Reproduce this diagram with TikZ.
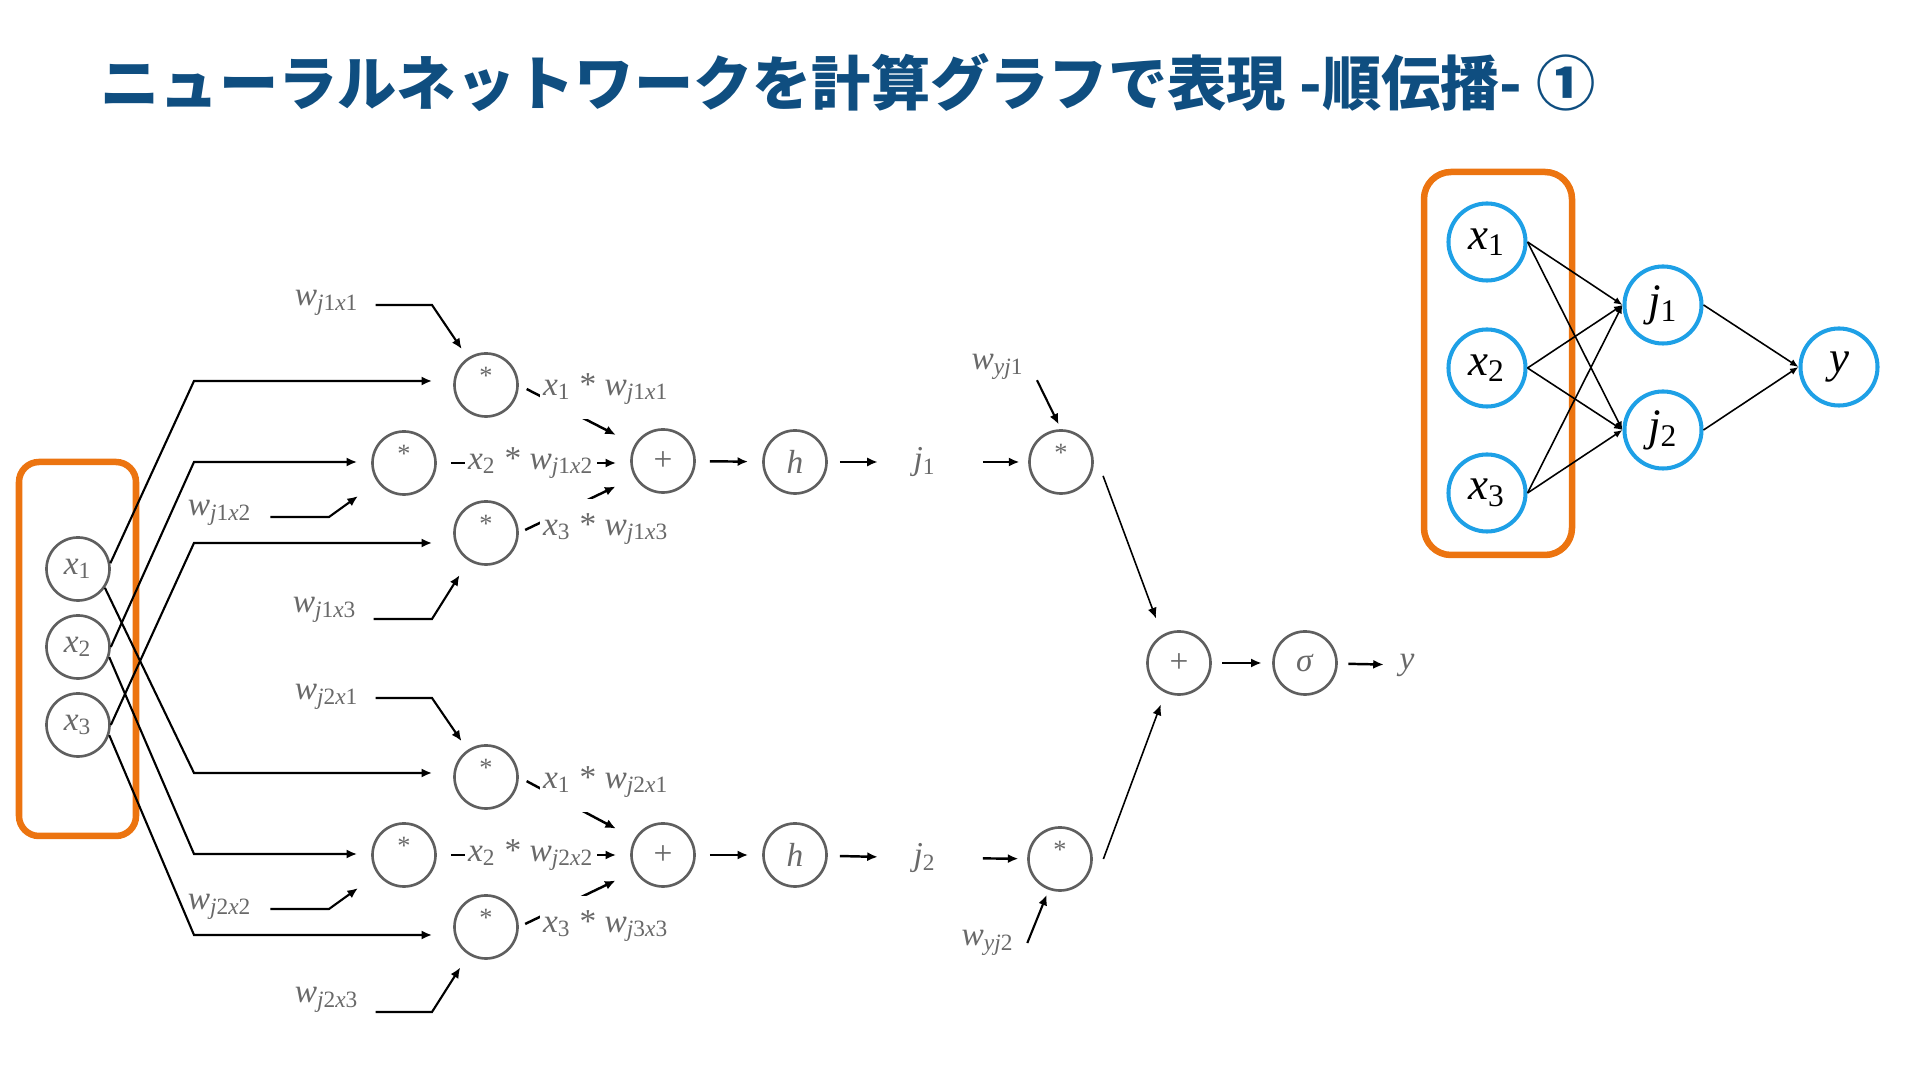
\documentclass[tikz,border=0pt]{standalone}
\usepackage{fontspec}
\setmainfont{Liberation Serif}
\newfontfamily\jpfont{Noto Sans CJK JP}
\usepackage{tikz}
\usetikzlibrary{arrows.meta}
\definecolor{TitleBlue}{RGB}{15,78,128}
\definecolor{BoxOrange}{RGB}{236,116,16}
\definecolor{NodeBlue}{RGB}{30,160,230}
\definecolor{OpGray}{RGB}{95,95,95}
\definecolor{LabelGray}{RGB}{105,105,105}
\newcommand{\lvar}[2]{\textit{#1}\textsubscript{#2}}
\newcommand{\wjx}[2]{\textit{w}\textsubscript{\textit{j}#1\textit{x}#2}}
\newcommand{\wyj}[1]{\textit{w}\textsubscript{\textit{yj}#1}}
\newcommand{\opstar}{{\fontsize{7.5}{8}\selectfont\smash{*}}}

\begin{document}
\begin{tikzpicture}
[x=0.01cm,y=-0.01cm,
title/.style={anchor=base west,inner sep=0pt,text=TitleBlue,
font=\jpfont\bfseries\fontsize{16.85}{20}\selectfont},
frame/.style={draw=BoxOrange,line width=1.85pt,rounded corners=0.2cm},
op/.style={circle,draw=OpGray,line width=0.75pt,minimum size=0.63cm,
inner sep=0pt,text=LabelGray,font=\fontsize{9.5}{11}\selectfont},
lab/.style={text=LabelGray,inner sep=0pt,font=\fontsize{9.5}{11}\selectfont},
prod/.style={lab,fill=white,inner xsep=0.8pt,inner ysep=4pt},
wire/.style={-{Latex[length=3pt,width=2.6pt]},line width=0.6pt},
arr/.style={-{Latex[length=3pt,width=2.6pt]},line width=0.7pt,
shorten <=4pt,shorten >=4pt},
thinarr/.style={-{Latex[length=3pt,width=2.6pt]},line width=0.45pt},
nn/.style={circle,draw=NodeBlue,line width=1.15pt,minimum size=0.77cm,
inner sep=0pt,font=\fontsize{12.8}{15}\selectfont},
nnarr/.style={-{Latex[length=2.4pt,width=2pt]},line width=0.45pt}]
\useasboundingbox (0,0) rectangle (1920,1080);
\node[title] (head) at (100,106) {ニューラルネットワークを計算グラフで表現 -順伝播- ①};

\draw[frame] (19,462) rectangle (136,836);
\node[op] (x1) at (78,569) {\lvar{x}{1}};
\node[op] (x2) at (78,647) {\lvar{x}{2}};
\node[op] (x3) at (78,725) {\lvar{x}{3}};

\node[op] (m11) at (486,385) {\opstar};
\node[op] (m12) at (404,463) {\opstar};
\node[op] (m13) at (486,533) {\opstar};
\node[op] (p1) at (663,461) {+};
\node[op] (h1) at (795,462) {\textit{h}};
\node[lab] (j1) at (925,462) {\lvar{j}{1}};
\node[op] (my1) at (1061,462) {\opstar};

\node[op] (m21) at (486,777) {\opstar};
\node[op] (m22) at (404,855) {\opstar};
\node[op] (m23) at (486,927) {\opstar};
\node[op] (p2) at (663,855) {+};
\node[op] (h2) at (795,855) {\textit{h}};
\node[lab] (j2) at (925,858) {\lvar{j}{2}};
\node[op] (my2) at (1060,859) {\opstar};

\node[op] (py) at (1179,663) {+};
\node[op] (sg) at (1305,663) {\textit{σ}};
\node[lab] (yo) at (1407,665) {\textit{y}};

\coordinate (c11) at (194,381);
\coordinate (c12) at (194,462);
\coordinate (c13) at (194,543);
\coordinate (c21) at (194,773);
\coordinate (c22) at (194,854);
\coordinate (c23) at (194,935);
\draw[wire,shorten >=6pt] (x1.10) -- (c11) -- (c11 -| m11.west);
\draw[wire,shorten >=4pt] (x2.0) -- (c12) -- (c12 -| m12.west);
\draw[wire,shorten >=6pt] (x3.0) -- (c13) -- (c13 -| m13.west);
\draw[wire,shorten >=6pt] (x1.-35) -- (c21) -- (c21 -| m21.west);
\draw[wire,shorten >=4pt] (x2.-18) -- (c22) -- (c22 -| m22.west);
\draw[wire,shorten >=6pt] (x3.-18) -- (c23) -- (c23 -| m23.west);

\node[lab] (wa) at (327,303) {\wjx{1}{1}};
\node[lab] (wb) at (220,513) {\wjx{1}{2}};
\node[lab] (wc) at (325,610) {\wjx{1}{3}};
\node[lab] (wd) at (327,697) {\wjx{2}{1}};
\node[lab] (we) at (220,907) {\wjx{2}{2}};
\node[lab] (wf) at (327,1000) {\wjx{2}{3}};
\coordinate (ba) at (432,305);
\coordinate (bb) at (329,517);
\coordinate (bc) at (432,619);
\coordinate (bd) at (432,698);
\coordinate (be) at (329,909);
\coordinate (bf) at (432,1012);
\draw[wire,shorten <=4.5pt,shorten >=3pt] (wa.east |- ba) -- (ba) -- (m11);
\draw[wire,shorten <=5pt,shorten >=6.8pt] (wb.east |- bb) -- (bb) -- (m12);
\draw[wire,shorten <=4.5pt,shorten >=4.8pt] (wc.east |- bc) -- (bc) -- (m13);
\draw[wire,shorten <=4.5pt,shorten >=3pt] (wd.east |- bd) -- (bd) -- (m21);
\draw[wire,shorten <=5pt,shorten >=6.8pt] (we.east |- be) -- (be) -- (m22);
\draw[wire,shorten <=4.5pt,shorten >=4.3pt] (wf.east |- bf) -- (bf) -- (m23);

\draw[arr,shorten <=2.5pt,shorten >=6pt] (m11.east) -- (p1.150);
\draw[arr] (m12.east) -- (m12.east -| p1.west);
\draw[arr,shorten <=2pt,shorten >=6pt] (m13.east) -- (p1.210);
\draw[arr,shorten <=2.5pt,shorten >=6pt] (m21.east) -- (p2.150);
\draw[arr] (m22.east) -- (m22.east -| p2.west);
\draw[arr,shorten <=2pt,shorten >=6pt] (m23.east) -- (p2.210);
\node[prod] (la) at (606,389) {\lvar{x}{1} * \wjx{1}{1}};
\node[prod] (lb) at (531,463) {\lvar{x}{2} * \wjx{1}{2}};
\node[prod] (lc) at (606,529) {\lvar{x}{3} * \wjx{1}{3}};
\node[prod] (ld) at (606,782) {\lvar{x}{1} * \wjx{2}{1}};
\node[prod] (le) at (531,855) {\lvar{x}{2} * \wjx{2}{2}};
\node[prod] (lf) at (606,926) {\lvar{x}{3} * \wjx{3}{3}};

\draw[arr] (p1) -- (h1);
\draw[arr,shorten <=3.4pt,shorten >=10pt] (h1) -- (j1);
\draw[arr,shorten <=13pt,shorten >=2.5pt] (j1) -- (my1);
\draw[arr] (p2) -- (h2);
\draw[arr,shorten <=3.4pt,shorten >=10pt] (h2) -- (j2);
\draw[arr,shorten <=13pt,shorten >=2.5pt] (j2) -- (my2);

\node[lab] (wy1) at (998,367) {\wyj{1}};
\node[lab] (wy2) at (988,943) {\wyj{2}};
\draw[wire,shorten >=1.5pt] ([xshift=3.4pt]wy1.south east) -- (my1.north);
\draw[wire,shorten >=1.5pt] ([xshift=3.5pt]wy2.east) -- (my2.250);
\draw[thinarr,shorten >=5pt] ([xshift=3.5pt]my1.-25) -- (py.121);
\draw[thinarr,shorten >=3.6pt] ([xshift=3pt]my2.east) -- (py.245);
\draw[arr,shorten <=3pt,shorten >=3pt] (py) -- (sg);
\draw[arr,shorten <=3pt,shorten >=4.3pt] (sg) -- (yo);

\draw[frame,rounded corners=0.27cm] (1424,172) rectangle (1572,555);
\node[nn] (rx1) at (1487,242) {\lvar{x}{1}};
\node[nn] (rx2) at (1487,368) {\lvar{x}{2}};
\node[nn] (rx3) at (1487,493) {\lvar{x}{3}};
\node[nn] (rj1) at (1663,305) {\lvar{j}{1}};
\node[nn] (rj2) at (1663,430) {\lvar{j}{2}};
\node[nn] (ry) at (1839,367) {\textit{y}};
\foreach \i in {1,2,3}
\foreach \k in {1,2}
\draw[nnarr] (rx\i.east) -- (rj\k.west);
\foreach \k in {1,2}
\draw[nnarr] (rj\k.east) -- (ry.west);
\end{tikzpicture}
\end{document}
